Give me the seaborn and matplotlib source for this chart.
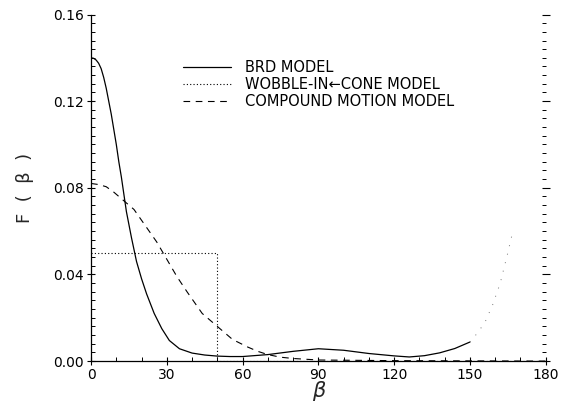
import matplotlib
matplotlib.use("Agg")
import matplotlib.pyplot as plt
import seaborn as sns
import pandas as pd
from matplotlib.ticker import MultipleLocator, FormatStrFormatter

# ---- data ----
brd_beta = [0, 1, 2, 3, 4, 5, 6, 7, 8, 9, 10, 11, 12, 13, 14, 16, 18, 20, 22, 25,
            28, 31, 35, 40, 45, 50, 55, 60, 70, 80, 90, 100, 110, 120, 126, 132,
            138, 144, 150]
brd_val = [0.140, 0.1398, 0.139, 0.1375, 0.135, 0.131, 0.126, 0.120, 0.114, 0.107,
           0.100, 0.092, 0.085, 0.077, 0.069, 0.057, 0.046, 0.038, 0.031, 0.022,
           0.015, 0.0095, 0.0057, 0.0037, 0.0028, 0.0023, 0.0021, 0.0021, 0.0030,
           0.0045, 0.0057, 0.0050, 0.0035, 0.0024, 0.0019, 0.0025, 0.0038, 0.0058,
           0.0088]
brd_tail_beta = [150, 153, 156, 159, 162, 165, 167]
brd_tail_val = [0.0088, 0.013, 0.018, 0.026, 0.036, 0.050, 0.060]

cone_beta = [0, 50, 50, 180]
cone_val = [0.05, 0.05, 0.0, 0.0]

comp_beta = [0, 3, 6, 9, 13, 17, 20, 23, 26, 29, 34, 38, 44, 50, 56, 62, 66, 70,
             75, 80, 90, 120, 180]
comp_val = [0.082, 0.0815, 0.0805, 0.078, 0.074, 0.070, 0.065, 0.060, 0.055, 0.049,
            0.039, 0.032, 0.022, 0.016, 0.010, 0.0065, 0.0045, 0.003, 0.0018,
            0.0012, 0.0005, 0.0002, 0.0]

labels = ["BRD MODEL", "WOBBLE-IN\u2190CONE MODEL", "COMPOUND MOTION MODEL"]
x_ticks = [0, 30, 60, 90, 120, 150, 180]
y_ticks = [0.00, 0.04, 0.08, 0.12, 0.16]

sns.set_theme(style="ticks")
plt.rcParams["font.family"] = ["DejaVu Sans"]

fig = plt.figure(figsize=(5.62, 4.03), dpi=100)
ax = fig.add_axes([0.162, 0.104, 0.809, 0.860])

df_brd = pd.DataFrame({"beta": brd_beta, "F": brd_val})
df_tail = pd.DataFrame({"beta": brd_tail_beta, "F": brd_tail_val})
df_cone = pd.DataFrame({"beta": cone_beta, "F": cone_val})
df_comp = pd.DataFrame({"beta": comp_beta, "F": comp_val})

sns.lineplot(data=df_brd, x="beta", y="F", ax=ax, color="black", lw=0.9,
             label=labels[0], sort=False, estimator=None)
ax.plot(df_cone["beta"], df_cone["F"], color="black", lw=0.8,
        linestyle=(0, (1, 2)), label=labels[1])
ax.plot(df_comp["beta"], df_comp["F"], color="black", lw=0.8,
        linestyle=(0, (6, 5)), label=labels[2])
ax.plot(df_tail["beta"], df_tail["F"], color="#777777", lw=0.7,
        linestyle=(0, (1, 8)))

ax.set_xlim(0, 180)
ax.set_ylim(0, 0.16)
ax.set_xticks(x_ticks)
ax.set_yticks(y_ticks)
ax.yaxis.set_major_formatter(FormatStrFormatter("%.2f"))
ax.xaxis.set_minor_locator(MultipleLocator(10))
ax.yaxis.set_minor_locator(MultipleLocator(0.004))

for s in ["top", "right"]:
    ax.spines[s].set_visible(False)
for s in ["left", "bottom"]:
    ax.spines[s].set_linewidth(0.9)
    ax.spines[s].set_color("black")

ax.tick_params(axis="both", which="major", labelsize=10, colors="black",
               width=0.8, length=6, direction="inout", pad=2)
ax.tick_params(axis="both", which="minor", width=0.7, length=3,
               direction="in", color="black")
ax.tick_params(axis="y", which="both", right=True)
ax.tick_params(axis="x", which="both", top=False)

ax.set_xlabel("\u03b2", fontsize=15, style="italic", labelpad=-1)
ax.set_ylabel("F  (  \u03b2  )", fontsize=13, labelpad=14)

leg = ax.legend(loc="upper left", bbox_to_anchor=(0.19, 0.885), frameon=False,
                fontsize=10.5, handlelength=3.3, handletextpad=0.9,
                labelspacing=0.12, borderaxespad=0)
for t in leg.get_texts():
    t.set_color("black")

fig.savefig("out.png", dpi=100, facecolor="white")
